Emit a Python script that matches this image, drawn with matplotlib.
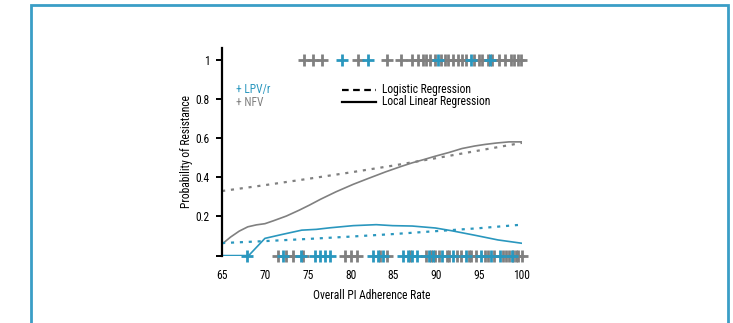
import matplotlib.pyplot as plt
from matplotlib.patches import Rectangle
from matplotlib.lines import Line2D
from matplotlib import font_manager

names = set(f.name for f in font_manager.fontManager.ttflist)
narrow = [n for n in ['Liberation Sans Narrow', 'Roboto Condensed', 'Open Sans Condensed'] if n in names]
plt.rcParams['font.family'] = narrow + ['DejaVu Sans']
plt.rcParams['font.stretch'] = 'condensed'
FS = 8.3

BLUE = '#2a97be'
GREY = '#808080'

# regression curves
nfv_llr_x = [65, 66, 67, 68, 69, 70, 71, 72.5, 74, 75.2, 76.5, 78.3, 80.3, 82, 84.1, 86, 87.2, 88.5, 89.9, 91.5, 93, 94.5, 95.7, 97, 98.5, 100]
nfv_llr_y = [0.059, 0.095, 0.125, 0.147, 0.157, 0.163, 0.178, 0.202, 0.232, 0.258, 0.288, 0.326, 0.364, 0.393, 0.428, 0.457, 0.474, 0.49, 0.508, 0.527, 0.547, 0.56, 0.568, 0.575, 0.581, 0.581]
nfv_log_x = [65, 70, 75, 80, 85, 90, 95, 100]
nfv_log_y = [0.33, 0.36, 0.392, 0.425, 0.46, 0.498, 0.537, 0.576]

lpv_llr_x = [65, 68.1, 70, 72, 74.3, 76, 77.6, 80.3, 83, 84.9, 87.2, 89.9, 91.8, 94.5, 97.2, 100]
lpv_llr_y = [0.0, 0.0, 0.088, 0.108, 0.13, 0.134, 0.142, 0.153, 0.158, 0.153, 0.151, 0.141, 0.127, 0.104, 0.08, 0.063]
lpv_log_x = [65, 70, 75, 80, 85, 90, 95, 100]
lpv_log_y = [0.064, 0.074, 0.085, 0.097, 0.11, 0.125, 0.14, 0.158]

# observed patients (rug at 0 and 1)
nfv_res = [74.6, 75.6, 76.7, 80.9, 84.3, 85.9, 87.2, 87.9, 88.4, 88.8, 89.3, 89.8, 90.6, 91.0, 91.4,
           91.9, 92.5, 93.0, 93.5, 94.4, 95.0, 95.3, 96.0, 96.5, 97.3, 98.0, 98.7, 99.1, 99.5, 99.9]
lpv_res = [79.0, 82.0, 90.2, 94.0, 96.3]
nfv_nores = [71.5, 72.5, 73.3, 74.5, 79.3, 80.1, 80.8, 83.4, 84.3, 86.9, 88.8, 89.4, 89.8, 90.3, 91.2,
             91.5, 92.4, 92.9, 93.8, 94.1, 94.7, 95.7, 96.0, 96.8, 97.8, 98.1, 98.5, 99.0, 99.3, 99.6, 100]
lpv_nores = [67.9, 72.1, 74.2, 75.8, 76.4, 77.0, 77.6, 82.6, 83.2, 83.8, 86.1, 86.7, 87.2, 87.8, 89.2,
             89.6, 90.7, 91.9, 93.5, 95.2, 96.4, 97.5, 98.8]

fig = plt.figure(figsize=(7.33, 3.23), dpi=100)
fig.patches.append(Rectangle((31 / 733, -0.05), 697 / 733, 1 - 5 / 323 + 0.05, transform=fig.transFigure,
                             fill=False, edgecolor='#3a9ec6', linewidth=2))

ax = fig.add_axes([0.303, 0.2087, 0.409, 0.6423])

ax.plot(nfv_log_x, nfv_log_y, color=GREY, lw=1.6, ls=(0, (1.4, 2.6)))
ax.plot(nfv_llr_x, nfv_llr_y, color=GREY, lw=1.2)
ax.plot(lpv_log_x, lpv_log_y, color=BLUE, lw=1.6, ls=(0, (1.4, 2.6)))
ax.plot(lpv_llr_x, lpv_llr_y, color=BLUE, lw=1.2)

ms, mew = 9, 2
ax.plot(nfv_res, [1] * len(nfv_res), '+', color=GREY, ms=ms, mew=mew, clip_on=False)
ax.plot(lpv_res, [1] * len(lpv_res), '+', color=BLUE, ms=ms, mew=mew, clip_on=False)
ax.plot(nfv_nores, [0] * len(nfv_nores), '+', color=GREY, ms=ms, mew=mew, clip_on=False)
ax.plot(lpv_nores, [0] * len(lpv_nores), '+', color=BLUE, ms=ms, mew=mew, clip_on=False)

ax.set_xlim(65, 100)
ax.set_ylim(0, 1.06)
ax.set_xticks([65, 70, 75, 80, 85, 90, 95, 100])
ax.set_yticks([0, 0.2, 0.4, 0.6, 0.8, 1])
ax.set_yticklabels(['', '0.2', '0.4', '0.6', '0.8', '1'])
for s in ['top', 'right', 'bottom']:
    ax.spines[s].set_visible(False)
ax.spines['left'].set_linewidth(1.6)
ax.tick_params(axis='y', length=4, width=1.4, labelsize=FS, pad=5)
ax.tick_params(axis='x', length=0, labelsize=FS, pad=10)
ax.set_xlabel('Overall PI Adherence Rate', fontsize=FS, labelpad=5)
ax.set_ylabel('Probability of Resistance', fontsize=FS, labelpad=2)

# legends
ax.text(0.045, 0.80, '+ LPV/r', color=BLUE, fontsize=FS, transform=ax.transAxes, va='center')
ax.text(0.045, 0.738, '+ NFV', color=GREY, fontsize=FS, transform=ax.transAxes, va='center')
ax.add_line(Line2D([0.40, 0.515], [0.80, 0.80], color='black', lw=1.6, ls=(0, (3, 2)), transform=ax.transAxes))
ax.add_line(Line2D([0.40, 0.515], [0.742, 0.742], color='black', lw=1.6, transform=ax.transAxes))
ax.text(0.535, 0.80, 'Logistic Regression', fontsize=FS, transform=ax.transAxes, va='center')
ax.text(0.535, 0.742, 'Local Linear Regression', fontsize=FS, transform=ax.transAxes, va='center')

plt.savefig('out.png', dpi=100)
